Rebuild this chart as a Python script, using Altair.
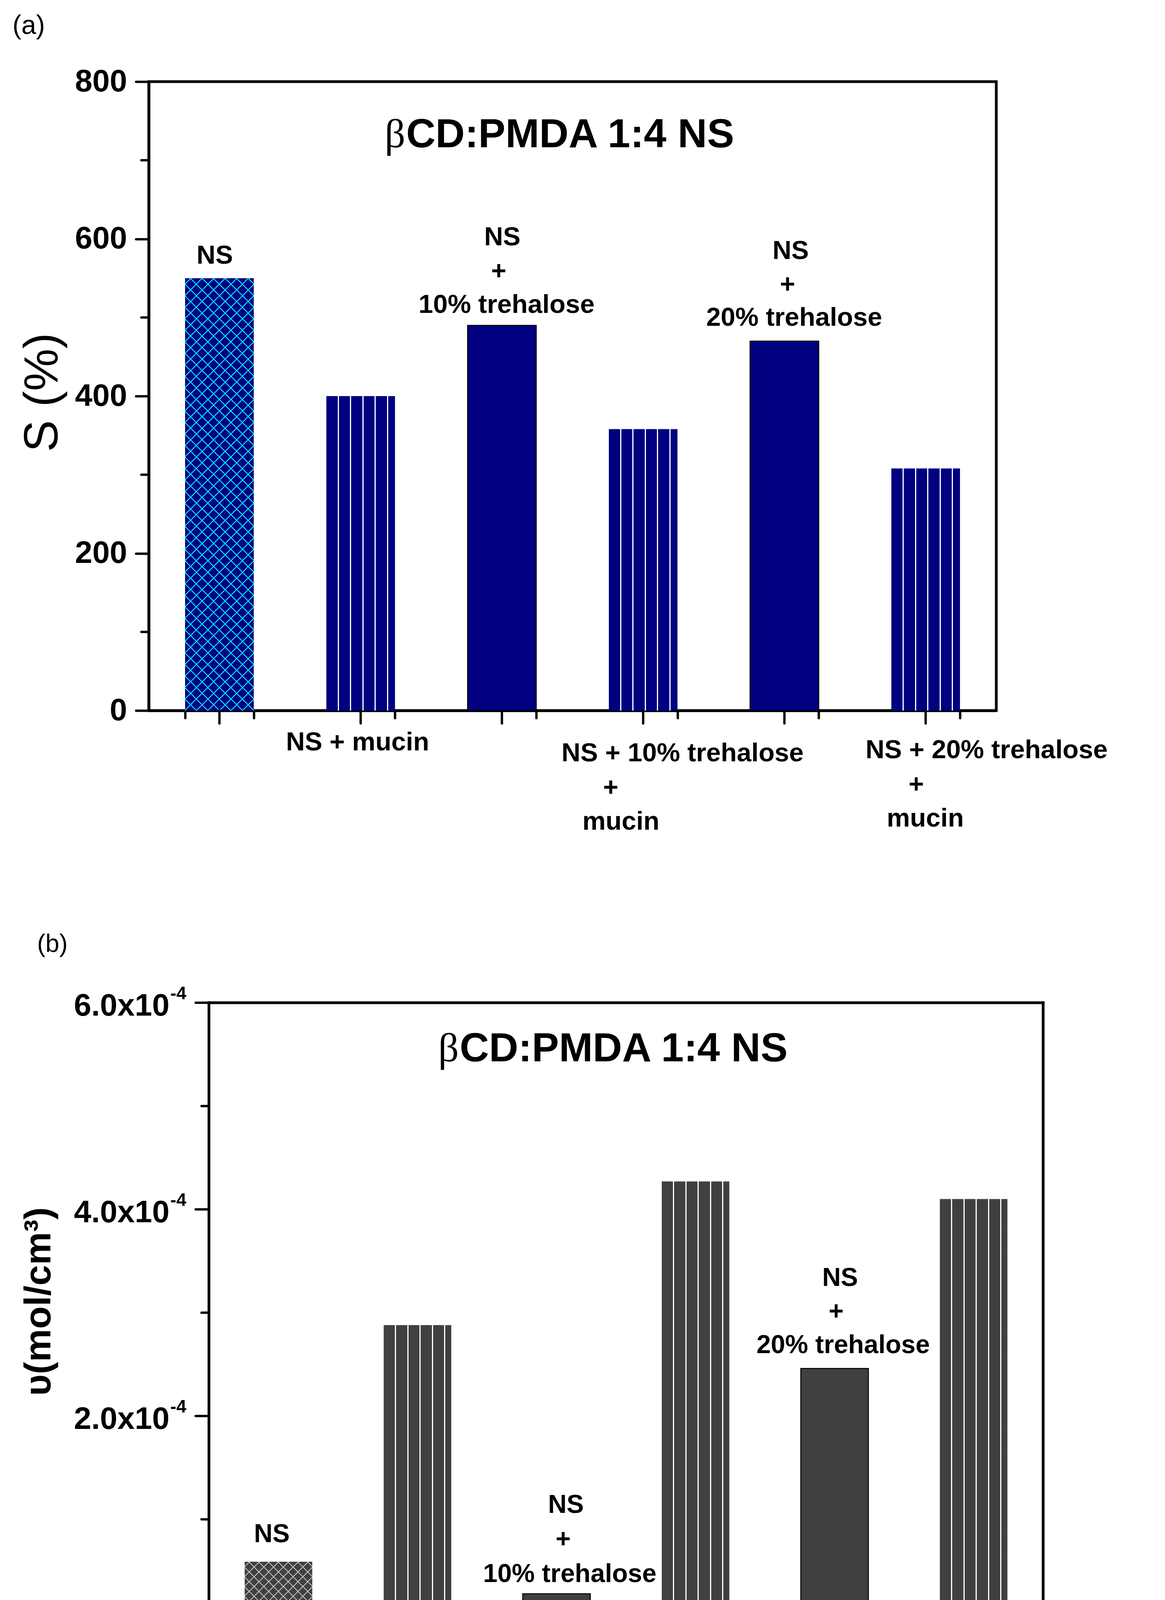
import altair as alt
import pandas as pd

FONT = "Liberation Sans"

categories = ["NS", "NS + mucin", "NS + 10% trehalose",
              "NS + 10% trehalose + mucin", "NS + 20% trehalose",
              "NS + 20% trehalose + mucin"]
swelling = [550, 400, 490, 358, 470, 308]                            # S (%)
crosslink = [0.59e-4, 2.88e-4, 0.28e-4, 4.27e-4, 2.46e-4, 4.10e-4]  # mol/cm3

s_ticks = [0, 200, 400, 600, 800]
s_minor = [100, 300, 500, 700]
v_ticks = [0, 2e-4, 4e-4, 6e-4]
v_minor = [1e-4, 3e-4, 5e-4]
v_mantissa = ["0.0", "2.0x10", "4.0x10", "6.0x10"]
v_exponent = ["", "-4", "-4", "-4"]

title_text = "βCD:PMDA 1:4 NS"

# label lines written above the bars and under the axis
lines_top = {
    categories[0]: ["NS"],
    categories[2]: ["NS", "+", "10% trehalose"],
    categories[4]: ["NS", "+", "20% trehalose"],
}
lines_bottom = {
    categories[1]: ["NS + mucin"],
    categories[3]: ["NS + 10% trehalose", "+", "mucin"],
    categories[5]: ["NS + 20% trehalose", "+", "mucin"],
}

PAD_INNER = 0.514


def stripes(bg, line, W, first=30.5, gap=31.5, w=3.0):
    stops = [{"offset": 0, "color": bg}]
    c = first
    while c + w / 2 < W:
        a, b = round((c - w / 2) / W, 5), round((c + w / 2) / W, 5)
        stops += [{"offset": a, "color": bg}, {"offset": a, "color": line},
                  {"offset": b, "color": line}, {"offset": b, "color": bg}]
        c += gap
    stops.append({"offset": 1, "color": bg})
    return {"gradient": "linear", "x1": 0, "y1": 0, "x2": 1, "y2": 0, "stops": stops}


def hatch(bg, line, W, H, gap, w, flip):
    # 45 degree lines inside a W x H bar (gradient runs along x+y)
    L = W + H
    k = L / (W * W + H * H)
    stops = [{"offset": 0, "color": bg}]
    c = gap / 2
    while c - w / 2 < L:
        a = round(max(0.0, (c - w / 2) / L), 5)
        b = round(min(1.0, (c + w / 2) / L), 5)
        stops += [{"offset": a, "color": bg}, {"offset": a, "color": line},
                  {"offset": b, "color": line}, {"offset": b, "color": bg}]
        c += gap
    stops.append({"offset": 1, "color": bg})
    if flip:
        x1, y1, x2, y2 = 1, 0, 1 - W * k, H * k
    else:
        x1, y1, x2, y2 = 0, 0, W * k, H * k
    return {"gradient": "linear", "x1": x1, "y1": y1, "x2": x2, "y2": y2, "stops": stops}


def panel(values, ymax, ticks, minor, cfg):
    # s = how far the plot frame starts right of the shared panel origin
    W, H, s = cfg["width"], cfg["height"], cfg["shift"]
    bw = W / 6 * (1 - PAD_INNER)
    df = pd.DataFrame({"group": categories, "value": values})
    one = pd.DataFrame({"k": [0]})
    manual = s > 0

    x_enc = alt.X("group:N", sort=categories,
                  scale=alt.Scale(domain=categories, range=[s, s + W],
                                  paddingInner=PAD_INNER, paddingOuter=PAD_INNER / 2),
                  axis=alt.Axis(title=None, labels=False, tickBand="extent",
                                tickSize=19, tickWidth=6, tickCap="round",
                                tickColor="black", domainColor="black",
                                domainWidth=7, grid=False))
    y_scale = alt.Scale(domain=[0, ymax], nice=False, zero=True)
    if manual:
        y_enc = alt.Y("value:Q", scale=y_scale, axis=None)
    else:
        y_enc = alt.Y("value:Q", scale=y_scale, axis=alt.Axis(
            values=ticks, grid=False, tickSize=cfg["tick"], tickWidth=6,
            tickCap="round", tickColor="black", domainColor="black", domainWidth=7,
            format="d", labelFont=FONT, labelFontWeight="bold", labelFontSize=80,
            labelColor="black", labelPadding=23,
            title=cfg["ytitle"], titleFont=FONT, titleFontWeight=cfg["ytitle_weight"],
            titleFontSize=cfg["ytitle_size"], titleColor="black",
            titleX=cfg["ytitle_x"], titleY=cfg["ytitle_y"], titleAngle=270,
            titleAlign="center", titleBaseline="alphabetic"))

    base = alt.Chart(df).encode(x=x_enc, y=y_enc)
    fill = cfg["fill"]
    layers = []

    # pin the panel's outer left/top/bottom bounds
    layers.append(alt.Chart(one).mark_rule(color="white", strokeWidth=1).encode(
        x=alt.value(cfg["anchor_x"]), x2=alt.value(cfg["anchor_x"]),
        y=alt.value(cfg["anchor_y"][0]), y2=alt.value(cfg["anchor_y"][1])))

    solid = [categories[2], categories[4]]
    striped = [categories[1], categories[3], categories[5]]
    layers.append(base.transform_filter(
        alt.FieldOneOfPredicate(field="group", oneOf=solid)
    ).mark_bar(fill=fill, stroke="black", strokeWidth=2.5))
    layers.append(base.transform_filter(
        alt.FieldOneOfPredicate(field="group", oneOf=striped)
    ).mark_bar(fill=stripes(fill, "white", bw)))

    h_cross = values[0] / ymax * H
    for flip, bg in [(False, fill), (True, "transparent")]:
        layers.append(base.transform_filter(alt.datum.group == categories[0]).mark_bar(
            fill=hatch(bg, cfg["hatch"], bw, h_cross, cfg["hatch_gap"], 3.2, flip)))

    rule = dict(color="black", strokeWidth=6, strokeCap="round")
    if manual:
        # frame and y axis drawn by hand, starting at x = s
        frame = dict(color="black", strokeWidth=7, strokeCap="square")
        layers.append(alt.Chart(one).mark_rule(**frame).encode(
            x=alt.value(s), x2=alt.value(s + W), y=alt.value(0)))
        layers.append(alt.Chart(one).mark_rule(**frame).encode(
            x=alt.value(s + W), y=alt.value(0), y2=alt.value(H)))
        layers.append(alt.Chart(one).mark_rule(**frame).encode(
            x=alt.value(s), y=alt.value(0), y2=alt.value(H)))
        layers.append(alt.Chart(pd.DataFrame({"value": ticks})).mark_rule(**rule).encode(
            y=y_enc, x=alt.value(s - cfg["tick"]), x2=alt.value(s)))
        layers.append(alt.Chart(one).mark_text(
            text=cfg["ytitle"], angle=270, align="center", baseline="alphabetic",
            font=FONT, fontWeight=cfg["ytitle_weight"], fontSize=cfg["ytitle_size"],
            color="black").encode(x=alt.value(s + cfg["ytitle_x"]),
                                  y=alt.value(cfg["ytitle_y"])))
        dft = pd.DataFrame({"value": ticks, "mantissa": v_mantissa, "exponent": v_exponent})
        lab = dict(align="right", baseline="alphabetic", font=FONT, fontWeight="bold",
                   color="black")
        layers.append(alt.Chart(dft).transform_filter("datum.value > 0").mark_text(
            dy=33, fontSize=80, **lab).encode(y=y_enc, x=alt.value(s - 101), text="mantissa:N"))
        layers.append(alt.Chart(dft).transform_filter("datum.value == 0").mark_text(
            dy=33, fontSize=80, **lab).encode(y=y_enc, x=alt.value(s - 58), text="mantissa:N"))
        layers.append(alt.Chart(dft).transform_filter("datum.value > 0").mark_text(
            dy=-9, fontSize=46, **lab).encode(y=y_enc, x=alt.value(s - 58), text="exponent:N"))

    # minor y ticks and major x ticks
    layers.append(alt.Chart(pd.DataFrame({"value": minor})).mark_rule(**rule).encode(
        y=y_enc, x=alt.value(s - 19), x2=alt.value(s)))
    layers.append(base.mark_rule(**rule).encode(y=alt.value(H), y2=alt.value(H + 33)))

    def txt(line, dx, dy, size):
        return dict(text=line, dx=dx, dy=dy, align="center", baseline="alphabetic",
                    font=FONT, fontWeight="bold", fontSize=size, color="black")

    for cat, lines in lines_top.items():
        for line, (dx, dy) in zip(lines, cfg["top_pos"][cat]):
            layers.append(base.transform_filter(alt.datum.group == cat).mark_text(
                **txt(line, dx, dy, cfg["label_size"])))
    for cat, lines in lines_bottom.items():
        for line, (dx, dy) in zip(lines, cfg["bottom_pos"][cat]):
            layers.append(base.transform_filter(alt.datum.group == cat).mark_text(
                **txt(line, dx, 0, cfg["label_size"])).encode(y=alt.value(H + dy)))

    # panel heading inside the frame
    tx, ty = cfg["title_pos"]
    layers.append(alt.Chart(one).mark_text(
        text=title_text[1:], align="left", baseline="alphabetic", font=FONT,
        fontWeight="bold", fontSize=104, color="black").encode(
        x=alt.value(s + tx), y=alt.value(ty)))
    layers.append(alt.Chart(one).mark_text(
        text=title_text[0], align="right", baseline="alphabetic",
        font="Liberation Serif", fontSize=104, color="black").encode(
        x=alt.value(s + tx - 2), y=alt.value(ty)))

    lx, ly, lsize = cfg["letter_pos"]
    layers.append(alt.Chart(one).mark_text(
        text=cfg["letter"], align="left", baseline="alphabetic", font=FONT,
        fontSize=lsize, color="black").encode(x=alt.value(s + lx), y=alt.value(ly)))

    out = alt.layer(*layers).properties(width=s + W, height=H)
    if manual:
        out = out.properties(view=alt.ViewBackground(stroke="transparent"))
    return out


cfg_a = dict(
    width=2170, height=1610, shift=0, tick=33, fill="#000080", hatch="#00FFFF",
    hatch_gap=29.5, ytitle="S (%)", ytitle_weight="normal", ytitle_size=122,
    ytitle_x=-235, ytitle_y=795, label_size=67,
    anchor_x=-369, anchor_y=(-197, 1995),
    title_pos=(659, 168), letter="(a)", letter_pos=(-349, -122, 68),
    top_pos={categories[0]: [(-12, -37)],
             categories[2]: [(1, -205), (-8, -118), (12, -32)],
             categories[4]: [(16, -210), (8, -124), (25, -39)]},
    bottom_pos={categories[1]: [(-8, 102)],
                categories[3]: [(101, 130), (-83, 218), (-57, 305)],
                categories[5]: [(156, 122), (-24, 210), (-1, 297)]},
)
cfg_b = dict(
    width=2136, height=1587, shift=154, tick=34, fill="#404040", hatch="#C0C0C0",
    hatch_gap=25, ytitle="υ(mol/cm³)", ytitle_weight="bold", ytitle_size=95,
    ytitle_x=-406, ytitle_y=765, label_size=66,
    anchor_x=-369, anchor_y=(-345, 1900),
    title_pos=(642, 150), letter="(b)", letter_pos=(-440, -130, 64),
    top_pos={categories[0]: [(-17, -50)],
             categories[2]: [(24, -207), (17, -119), (34, -30)],
             categories[4]: [(14, -211), (4, -125), (22, -39)]},
    bottom_pos={categories[1]: [(19, 84)],
                categories[3]: [(137, 129), (-44, 214), (-19, 300)],
                categories[5]: [(160, 121), (-18, 206), (4, 291)]},
)

panel_a = panel(swelling, 800, s_ticks, s_minor, cfg_a)
panel_b = panel(crosslink, 6e-4, v_ticks, v_minor, cfg_b)

chart = alt.vconcat(panel_a, panel_b, spacing=10).properties(
    padding=0, background="white"
).configure_view(stroke="black", strokeWidth=7)

chart.save("out.html", embed_options={"renderer": "svg", "actions": False})
